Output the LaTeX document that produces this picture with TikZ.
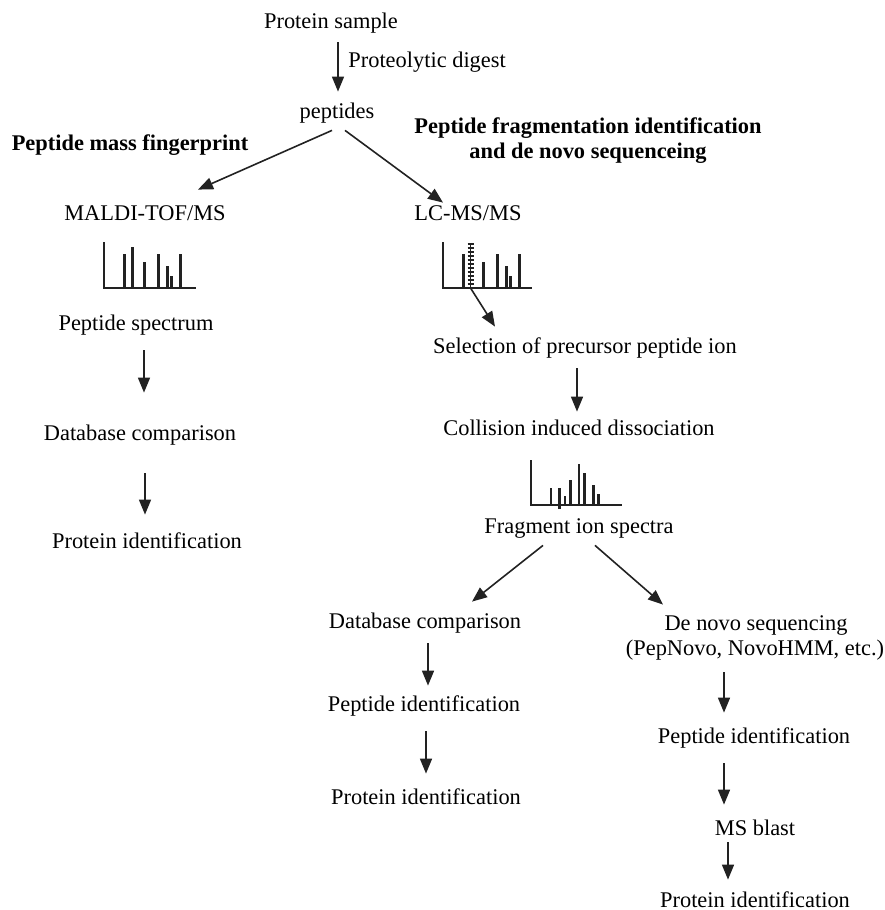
\documentclass[tikz,border=0pt]{standalone}
\usepackage{fontspec}
\setmainfont{Liberation Serif}
\usetikzlibrary{arrows.meta,calc}
\definecolor{ink}{HTML}{222222}
\begin{document}
\begin{tikzpicture}[x=0.5pt,y=-0.5pt,
  lbl/.style={inner sep=0pt,text height=8pt,text depth=2.5pt,font=\fontsize{11.2}{13}\selectfont},
  hdr/.style={inner sep=0pt,align=center,font=\fontsize{11.2}{12.5}\selectfont\bfseries},
  arr/.style={draw=ink,line width=0.8pt,-{Triangle[length=7.5pt,width=6pt]}},
  axis/.style={draw=ink,line width=1pt},
  bar/.style={draw=ink,line width=1.3pt}]
\path[use as bounding box] (0,0) rectangle (884,910);

% nodes
\node[lbl] (ps) at (331,23) {Protein sample};
\node[lbl,anchor=west] (pd) at (348,62) {Proteolytic digest};
\node[lbl] (pep) at (337,113) {peptides};
\node[hdr] (hpmf) at (130,145) {Peptide mass fingerprint};
\node[hdr] (hpfi) at (588,141) {Peptide fragmentation identification\\and de novo sequenceing};
\node[lbl] (maldi) at (145,215) {MALDI-TOF/MS};
\node[lbl] (lc) at (468,215) {LC-MS/MS};
\node[lbl] (pspec) at (136,325) {Peptide spectrum};
\node[lbl] (dbl) at (140,435) {Database comparison};
\node[lbl] (pidl) at (147,543) {Protein identification};
\node[lbl] (sel) at (585,348) {Selection of precursor peptide ion};
\node[lbl] (cid) at (579,430) {Collision induced dissociation};
\node[lbl] (frag) at (579,528) {Fragment ion spectra};
\node[lbl] (dbm) at (425,623) {Database comparison};
\node[lbl] (pepm) at (424,706) {Peptide identification};
\node[lbl] (pidm) at (426,799) {Protein identification};
\node[lbl] (dn) at (756,625) {De novo sequencing};
\node[lbl] (dnp) at (755,650) {(PepNovo, NovoHMM, etc.)};
\node[lbl] (pepr) at (754,738) {Peptide identification};
\node[lbl] (msb) at (755,830) {MS blast};
\node[lbl] (pidr) at (755,902) {Protein identification};

% spectrum 1 (MALDI)
\draw[axis] (104,242) -- (104,288) -- (196,288);
\foreach \x/\t in {124.3/254,132.7/246.7,144.3/262.3,158.3/254,167.7/266,171.7/275.7,180.7/254}
  \draw[bar] (\x,288) -- (\x,\t);

% spectrum 2 (LC-MS/MS)
\draw[axis] (442.7,242.3) -- (442.7,288.3) -- (531.7,288.3);
\foreach \x/\t in {463.3/254,483.3/262.3,497.3/254,506.7/266,510.7/275.7,519.3/254}
  \draw[bar] (\x,288.3) -- (\x,\t);
\draw[draw=ink,line width=0.5pt] (470.7,288.3) -- (470.7,242.7);
\foreach \y in {244,248,...,286}
  \draw[draw=ink,line width=0.7pt] (467.7,\y) -- (473.7,\y);
\coordinate (selsrc) at (470.7,288.3);
\draw[arr] (selsrc) -- ($(sel.north)+(-90,-10.5)$);

% spectrum 3 (fragments)
\draw[axis] (531,460) -- (531,505) -- (621.7,505);
\foreach \x/\t in {551/488.3,565/495.7,570.7/480,579/464,584.3/472.7,593.3/485,598.3/494}
  \draw[bar] (\x,505) -- (\x,\t);
\draw[bar] (559.3,509) -- (559.3,488.3);

% connectors
\draw[arr] ($(ps.south)+(7,8.5)$) -- ($(pep.north)+(1,-10.5)$);
\draw[arr] ($(pep.south)+(-5,6.5)$) -- ($(maldi.north)+(53,-14.5)$);
\draw[arr] ($(pep.south)+(8,6.5)$) -- ($(lc.north)+(-25,-1.5)$);
\draw[arr] ($(pspec.south)+(8,14.5)$) -- ($(dbl.north)+(4,-31.5)$);
\draw[arr] ($(dbl.south)+(5,27.5)$) -- ($(pidl.north)+(-2,-17.5)$);
\draw[arr] ($(sel.south)+(-8,9.5)$) -- ($(cid.north)+(-2,-7.5)$);
\draw[arr] ($(frag.south)+(-36,6.5)$) -- ($(dbm.north)+(47,-10.5)$);
\draw[arr] ($(frag.south)+(16,6.5)$) -- ($(dn.north)+(-93,-9.5)$);
\draw[arr] ($(dbm.south)+(3,9.5)$) -- ($(pepm.north)+(4,-9.5)$);
\draw[arr] ($(pepm.south)+(2,14.5)$) -- ($(pidm.north)+(0,-14.5)$);
\draw[arr] ($(dnp.south)+(-31,11.5)$) -- ($(pepr.north)+(-30,-14.5)$);
\draw[arr] ($(pepr.south)+(-30,14.5)$) -- ($(msb.north)+(-31,-14.5)$);
\draw[arr] ($(msb.south)+(-27,1.5)$) -- ($(pidr.north)+(-27,-11.5)$);
\end{tikzpicture}
\end{document}
